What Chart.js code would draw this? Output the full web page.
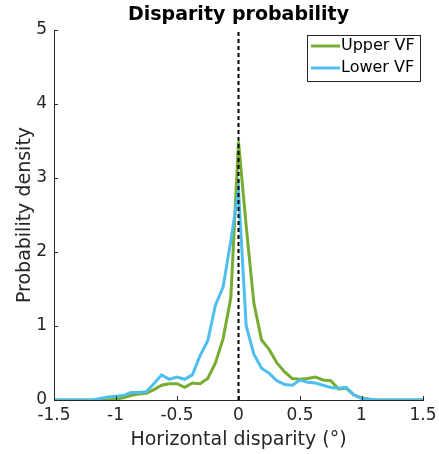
<!DOCTYPE html>
<html>
<head>
<meta charset="utf-8">
<script src="https://cdn.jsdelivr.net/npm/chart.js@4"></script>
<style>
html,body{margin:0;padding:0;background:#fff;}
#wrap{width:439px;height:454px;}
</style>
</head>
<body>
<div id="wrap"><canvas id="c" width="439" height="454"></canvas></div>
<script>
// ---- data ----
const xValues = [-1.5,-1.4375,-1.375,-1.3125,-1.25,-1.1875,-1.125,-1.0625,-1.0,-0.9375,-0.875,-0.8125,-0.75,-0.6875,-0.625,-0.5625,-0.5,-0.4375,-0.375,-0.3125,-0.25,-0.1875,-0.125,-0.0625,0,0.0625,0.125,0.1875,0.25,0.3125,0.375,0.4375,0.5,0.5625,0.625,0.6875,0.75,0.8125,0.875,0.9375,1.0,1.0625,1.125,1.1875,1.25,1.3125,1.375,1.4375,1.5];
const upperVF = [0,0,0,0,0,0,0,0,0.01,0.03,0.06,0.08,0.09,0.14,0.2,0.22,0.22,0.17,0.23,0.22,0.29,0.5,0.83,1.38,3.49,2.35,1.31,0.81,0.68,0.5,0.38,0.29,0.28,0.29,0.31,0.27,0.26,0.15,0.16,0.07,0.03,0.01,0,0,0,0,0,0,0];
const lowerVF = [0,0,0,0,0,0,0.02,0.04,0.05,0.06,0.1,0.1,0.11,0.22,0.34,0.28,0.31,0.28,0.34,0.6,0.8,1.28,1.53,2.15,2.84,1.0,0.62,0.43,0.36,0.26,0.21,0.2,0.27,0.24,0.23,0.2,0.17,0.16,0.17,0.07,0.02,0.01,0,0,0,0,0,0,0];
const seriesNames = ['Upper VF','Lower VF'];
const refLineX = [0, 0];
const refLineY = [0, 5];
const xTicks = [-1.5,-1,-0.5,0,0.5,1,1.5];
const yTicks = [0,1,2,3,4,5];
const titleText = 'Disparity probability';
const xLabel = 'Horizontal disparity (°)';
const yLabel = 'Probability density';

const GREEN = '#77AC30', BLUE = '#4DBEEE', AX = '#262626';
const FONT = 'DejaVu Sans';

const toPts = (xs, ys) => xs.map((x, i) => ({x: x, y: ys[i]}));

const decor = {
  id: 'decor',
  afterDraw(chart) {
    const ctx = chart.ctx, ca = chart.chartArea;
    const xs = chart.scales.x, ys = chart.scales.y;
    ctx.save();
    // inward ticks
    ctx.strokeStyle = AX; ctx.lineWidth = 1;
    ctx.beginPath();
    xTicks.forEach(v => {
      const px = Math.round(xs.getPixelForValue(v)) + 0.5;
      ctx.moveTo(px, ca.bottom); ctx.lineTo(px, ca.bottom - 4);
    });
    yTicks.forEach(v => {
      const py = Math.round(ys.getPixelForValue(v)) + 0.5;
      ctx.moveTo(ca.left, py); ctx.lineTo(ca.left + 4, py);
    });
    ctx.stroke();
    // x tick labels
    ctx.fillStyle = AX;
    ctx.font = '17px "' + FONT + '"';
    ctx.textAlign = 'center'; ctx.textBaseline = 'middle';
    xTicks.forEach(v => {
      ctx.fillText(String(v), xs.getPixelForValue(v), ca.bottom + 16);
    });
    // title
    ctx.fillStyle = '#000';
    ctx.font = 'bold 19px "' + FONT + '"';
    ctx.textAlign = 'center'; ctx.textBaseline = 'middle';
    ctx.fillText(titleText, (ca.left + ca.right) / 2, 15);
    // legend
    const bx = 307, by = 35, bw = 113, bh = 46;
    ctx.fillStyle = '#fff';
    ctx.fillRect(bx, by, bw, bh);
    ctx.strokeStyle = AX; ctx.lineWidth = 1;
    ctx.strokeRect(bx + 0.5, by + 0.5, bw, bh);
    const cols = [GREEN, BLUE];
    const rows = [46, 68];
    ctx.font = '16px "' + FONT + '"';
    ctx.textAlign = 'left'; ctx.textBaseline = 'middle';
    seriesNames.forEach((n, i) => {
      ctx.strokeStyle = cols[i]; ctx.lineWidth = 3;
      ctx.beginPath(); ctx.moveTo(311, rows[i]); ctx.lineTo(340, rows[i]); ctx.stroke();
      ctx.fillStyle = '#000';
      ctx.fillText(n, 341, rows[i]);
    });
    ctx.restore();
  }
};

new Chart(document.getElementById('c'), {
  type: 'scatter',
  data: {
    datasets: [
      {label: 'ref', data: toPts(refLineX, refLineY), showLine: true, borderColor: '#000', borderWidth: 2, borderDash: [4,3], pointRadius: 0, order: 0},
      {label: seriesNames[1], data: toPts(xValues, lowerVF), showLine: true, borderColor: BLUE, borderWidth: 3, pointRadius: 0, order: 1, tension: 0, borderJoinStyle: 'miter'},
      {label: seriesNames[0], data: toPts(xValues, upperVF), showLine: true, borderColor: GREEN, borderWidth: 3, pointRadius: 0, order: 2, tension: 0, borderJoinStyle: 'miter'}
    ]
  },
  options: {
    responsive: false,
    animation: false,
    devicePixelRatio: 1,
    layout: {padding: {left: 0, right: 16, top: 30, bottom: 0}},
    plugins: {legend: {display: false}, title: {display: false}, tooltip: {enabled: false}},
    scales: {
      x: {
        type: 'linear', min: -1.5, max: 1.5,
        afterBuildTicks: s => { s.ticks = xTicks.map(v => ({value: v})); },
        afterFit: s => { s.height = 54; s.paddingLeft = 0; s.paddingRight = 0; },
        grid: {display: false, drawTicks: false, tickLength: 0},
        border: {display: true, color: AX, width: 1},
        ticks: {display: false, autoSkip: false, maxRotation: 0},
        title: {display: true, text: xLabel, color: AX, font: {family: FONT, size: 19}, padding: {top: 0, bottom: 2.6}}
      },
      y: {
        type: 'linear', min: 0, max: 5,
        afterBuildTicks: s => { s.ticks = yTicks.map(v => ({value: v})); },
        afterFit: s => { s.width = 54; s.paddingTop = 0; s.paddingBottom = 0; },
        grid: {display: false, drawTicks: false, tickLength: 0},
        border: {display: true, color: AX, width: 1},
        ticks: {color: AX, padding: 7, font: {family: FONT, size: 17}, callback: v => String(v)},
        title: {display: true, text: yLabel, color: AX, font: {family: FONT, size: 19}, padding: {top: 13.6, bottom: 0}}
      }
    }
  },
  plugins: [decor]
});
</script>
</body>
</html>
